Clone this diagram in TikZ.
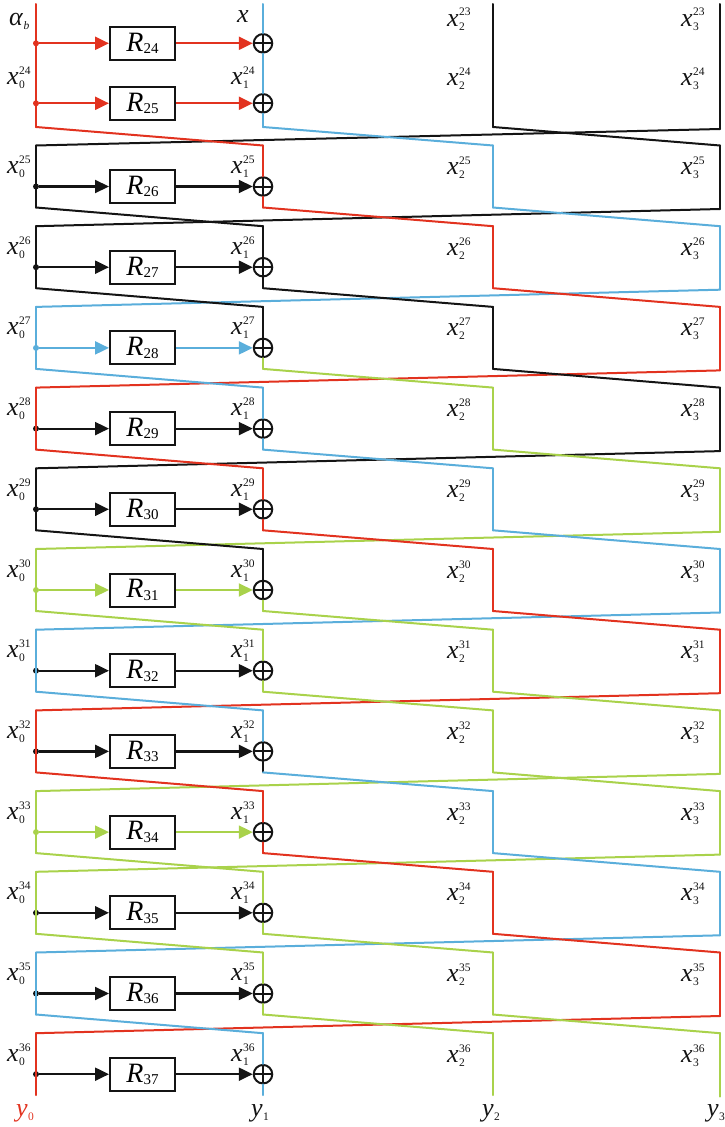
\documentclass[tikz,border=0pt]{standalone}
\usepackage{fontspec}
\setmainfont{Liberation Serif}
\usetikzlibrary{arrows.meta}

\definecolor{lr}{HTML}{E2321F}
\definecolor{lb}{HTML}{5AAEDB}
\definecolor{lg}{HTML}{A9D24B}
\definecolor{lk}{HTML}{141414}

\newcommand{\lblsz}{\fontsize{11.5}{11.5}\selectfont}
% italic symbol with stacked subscript and superscript
\newcommand{\sxs}[3]{\textit{#1}\makebox[0pt][l]{\kern0.5pt\raisebox{10pt}{\lblsz #3}}\kern0.3pt\raisebox{-4pt}{\lblsz #2}}
% italic symbol with subscript only
\newcommand{\sbs}[2]{\textit{#1}\kern0.3pt\raisebox{-4pt}{\lblsz #2}}
\newcommand{\rlab}[1]{\textit{R}\raisebox{-2.5pt}{\fontsize{15}{15}\selectfont #1}}

\tikzset{
  wire/.style={line width=2pt, line cap=round},
  rbox/.style={draw=lk, line width=2pt, minimum width=65pt, minimum height=33pt,
    inner sep=0pt, font=\fontsize{28}{28}\selectfont},
  xorop/.style={circle, draw=lk, line width=2pt, minimum size=18.5pt, inner sep=0pt,
    path picture={\draw[lk, line width=2pt]
      (path picture bounding box.north) -- (path picture bounding box.south)
      (path picture bounding box.west) -- (path picture bounding box.east);}},
  feed/.style={line width=2.2pt, -{Triangle[length=14pt,width=13pt]}},
  tap/.style={circle, inner sep=0pt, minimum size=6pt},
  lab/.style={anchor=base west, inner sep=0pt, text=lk, font=\fontsize{26}{26}\selectfont},
}

\begin{document}
\begin{tikzpicture}[x=1pt, y=-1pt]
\useasboundingbox (0,0) rectangle (724,1127);

% ---- first block: rounds R24 and R25 ----
\coordinate (t24-0) at (36,4);
\coordinate (t24-1) at (263,4);
\coordinate (t24-2) at (493,4);
\coordinate (t24-3) at (720,4);
\coordinate (b24-0) at (36,127);
\coordinate (b24-1) at (263,127);
\coordinate (b24-2) at (493,127);
\coordinate (b24-3) at (720,129);

\node[rbox] (R24) at (142.5,43.3) {\rlab{24}};
\node[rbox] (R25) at (142.5,103.3) {\rlab{25}};
\node[xorop] (X24) at (263,43.3) {};
\node[xorop] (X25) at (263,103.3) {};
\node[tap, fill=lr] (d24) at (36,43.3) {};
\node[tap, fill=lr] (d25) at (36,103.3) {};

\draw[wire, lr] (t24-0) -- (b24-0);
\draw[wire, lb] (t24-1) -- (X24.north) (X24.south) -- (X25.north) (X25.south) -- (b24-1);
\draw[wire, lk] (t24-2) -- (b24-2);
\draw[wire, lk] (t24-3) -- (b24-3);
\draw[feed, lr] (d24.east) -- (R24.west);
\draw[feed, lr] (R24.east) -- (X24.west);
\draw[feed, lr] (d25.east) -- (R25.west);
\draw[feed, lr] (R25.east) -- (X25.west);

\node[lab] (ab) at (9,25) {\sbs{α}{\textit{b}}};
\node[lab] (xin) at (237,23) {\textit{x}};
\node[lab] (x2-23) at (447,26) {\sxs{x}{2}{23}};
\node[lab] (x3-23) at (681,26) {\sxs{x}{3}{23}};
\node[lab] (x0-24) at (7,84) {\sxs{x}{0}{24}};
\node[lab] (x1-24) at (231,84) {\sxs{x}{1}{24}};
\node[lab] (x2-24) at (447,85) {\sxs{x}{2}{24}};
\node[lab] (x3-24) at (681,85) {\sxs{x}{3}{24}};

% ---- rounds R26 ... R37, one per row ----
% colours: col0 / col1 above XOR / col1 below XOR / col1 outgoing / col2 / col3 / feed
\foreach \k/\cA/\cBu/\cBl/\cBt/\cC/\cD/\cF in {
  25/lk/lr/lr/lr/lb/lk/lk,
  26/lk/lk/lk/lk/lr/lb/lk,
  27/lb/lk/lg/lg/lk/lr/lb,
  28/lr/lb/lb/lb/lg/lk/lk,
  29/lk/lr/lr/lr/lb/lg/lk,
  30/lg/lk/lg/lg/lr/lb/lg,
  31/lb/lg/lg/lg/lg/lr/lk,
  32/lr/lb/lk/lb/lg/lg/lk,
  33/lg/lr/lr/lr/lb/lg/lg,
  34/lg/lg/lg/lg/lr/lb/lk,
  35/lb/lg/lg/lg/lg/lr/lk,
  36/lr/lb/lb/lb/lg/lg/lk}
{
  \pgfmathtruncatemacro\prv{\k-1}
  \pgfmathtruncatemacro\rid{\k+1}
  \pgfmathsetmacro\rowT{145.5+80.7*(\k-25)}
  \pgfmathsetmacro\rowB{\rowT+62}
  \pgfmathsetmacro\rowY{\rowT+41}
  \pgfmathsetmacro\rowL{\rowT+28}
  \coordinate (t\k-0) at (36,\rowT);
  \coordinate (t\k-1) at (263,\rowT);
  \coordinate (t\k-2) at (493,\rowT);
  \coordinate (t\k-3) at (720,\rowT);
  \coordinate (b\k-0) at (36,\rowB);
  \coordinate (b\k-1) at (263,\rowB);
  \coordinate (b\k-2) at (493,\rowB);
  \coordinate (b\k-3) at (720,\rowB+1.5);

  % words shifted one column to the right
  \draw[wire, draw=\cA] (b\prv-3) -- (t\k-0);
  \draw[wire, draw=\cBu] (b\prv-0) -- (t\k-1);
  \draw[wire, draw=\cC] (b\prv-1) -- (t\k-2);
  \draw[wire, draw=\cD] (b\prv-2) -- (t\k-3);

  \node[rbox] (R\rid) at (142.5,\rowY) {\rlab{\rid}};
  \node[xorop] (X\rid) at (263,\rowY) {};
  \node[tap, fill=\cF] (d\rid) at (36,\rowY) {};

  \draw[wire, draw=\cA] (t\k-0) -- (b\k-0);
  \draw[wire, draw=\cBu] (t\k-1) -- (X\rid.north);
  \draw[wire, draw=\cBl] (X\rid.south) -- (b\k-1);
  \draw[wire, draw=\cC] (t\k-2) -- (b\k-2);
  \draw[wire, draw=\cD] (t\k-3) -- (b\k-3);
  \draw[feed, draw=\cF, fill=\cF] (d\rid.east) -- (R\rid.west);
  \draw[feed, draw=\cF, fill=\cF] (R\rid.east) -- (X\rid.west);

  \node[lab] (x0-\k) at (7,\rowL) {\sxs{x}{0}{\k}};
  \node[lab] (x1-\k) at (231,\rowL) {\sxs{x}{1}{\k}};
  \node[lab] (x2-\k) at (447,\rowL+1) {\sxs{x}{2}{\k}};
  \node[lab] (x3-\k) at (681,\rowL+1) {\sxs{x}{3}{\k}};
}

% ---- outputs ----
\node[lab, text=lr] (y0) at (16,1116) {\sbs{y}{0}};
\node[lab] (y1) at (251,1116) {\sbs{y}{1}};
\node[lab] (y2) at (482,1116) {\sbs{y}{2}};
\node[lab] (y3) at (707,1116) {\sbs{y}{3}};
\end{tikzpicture}
\end{document}
